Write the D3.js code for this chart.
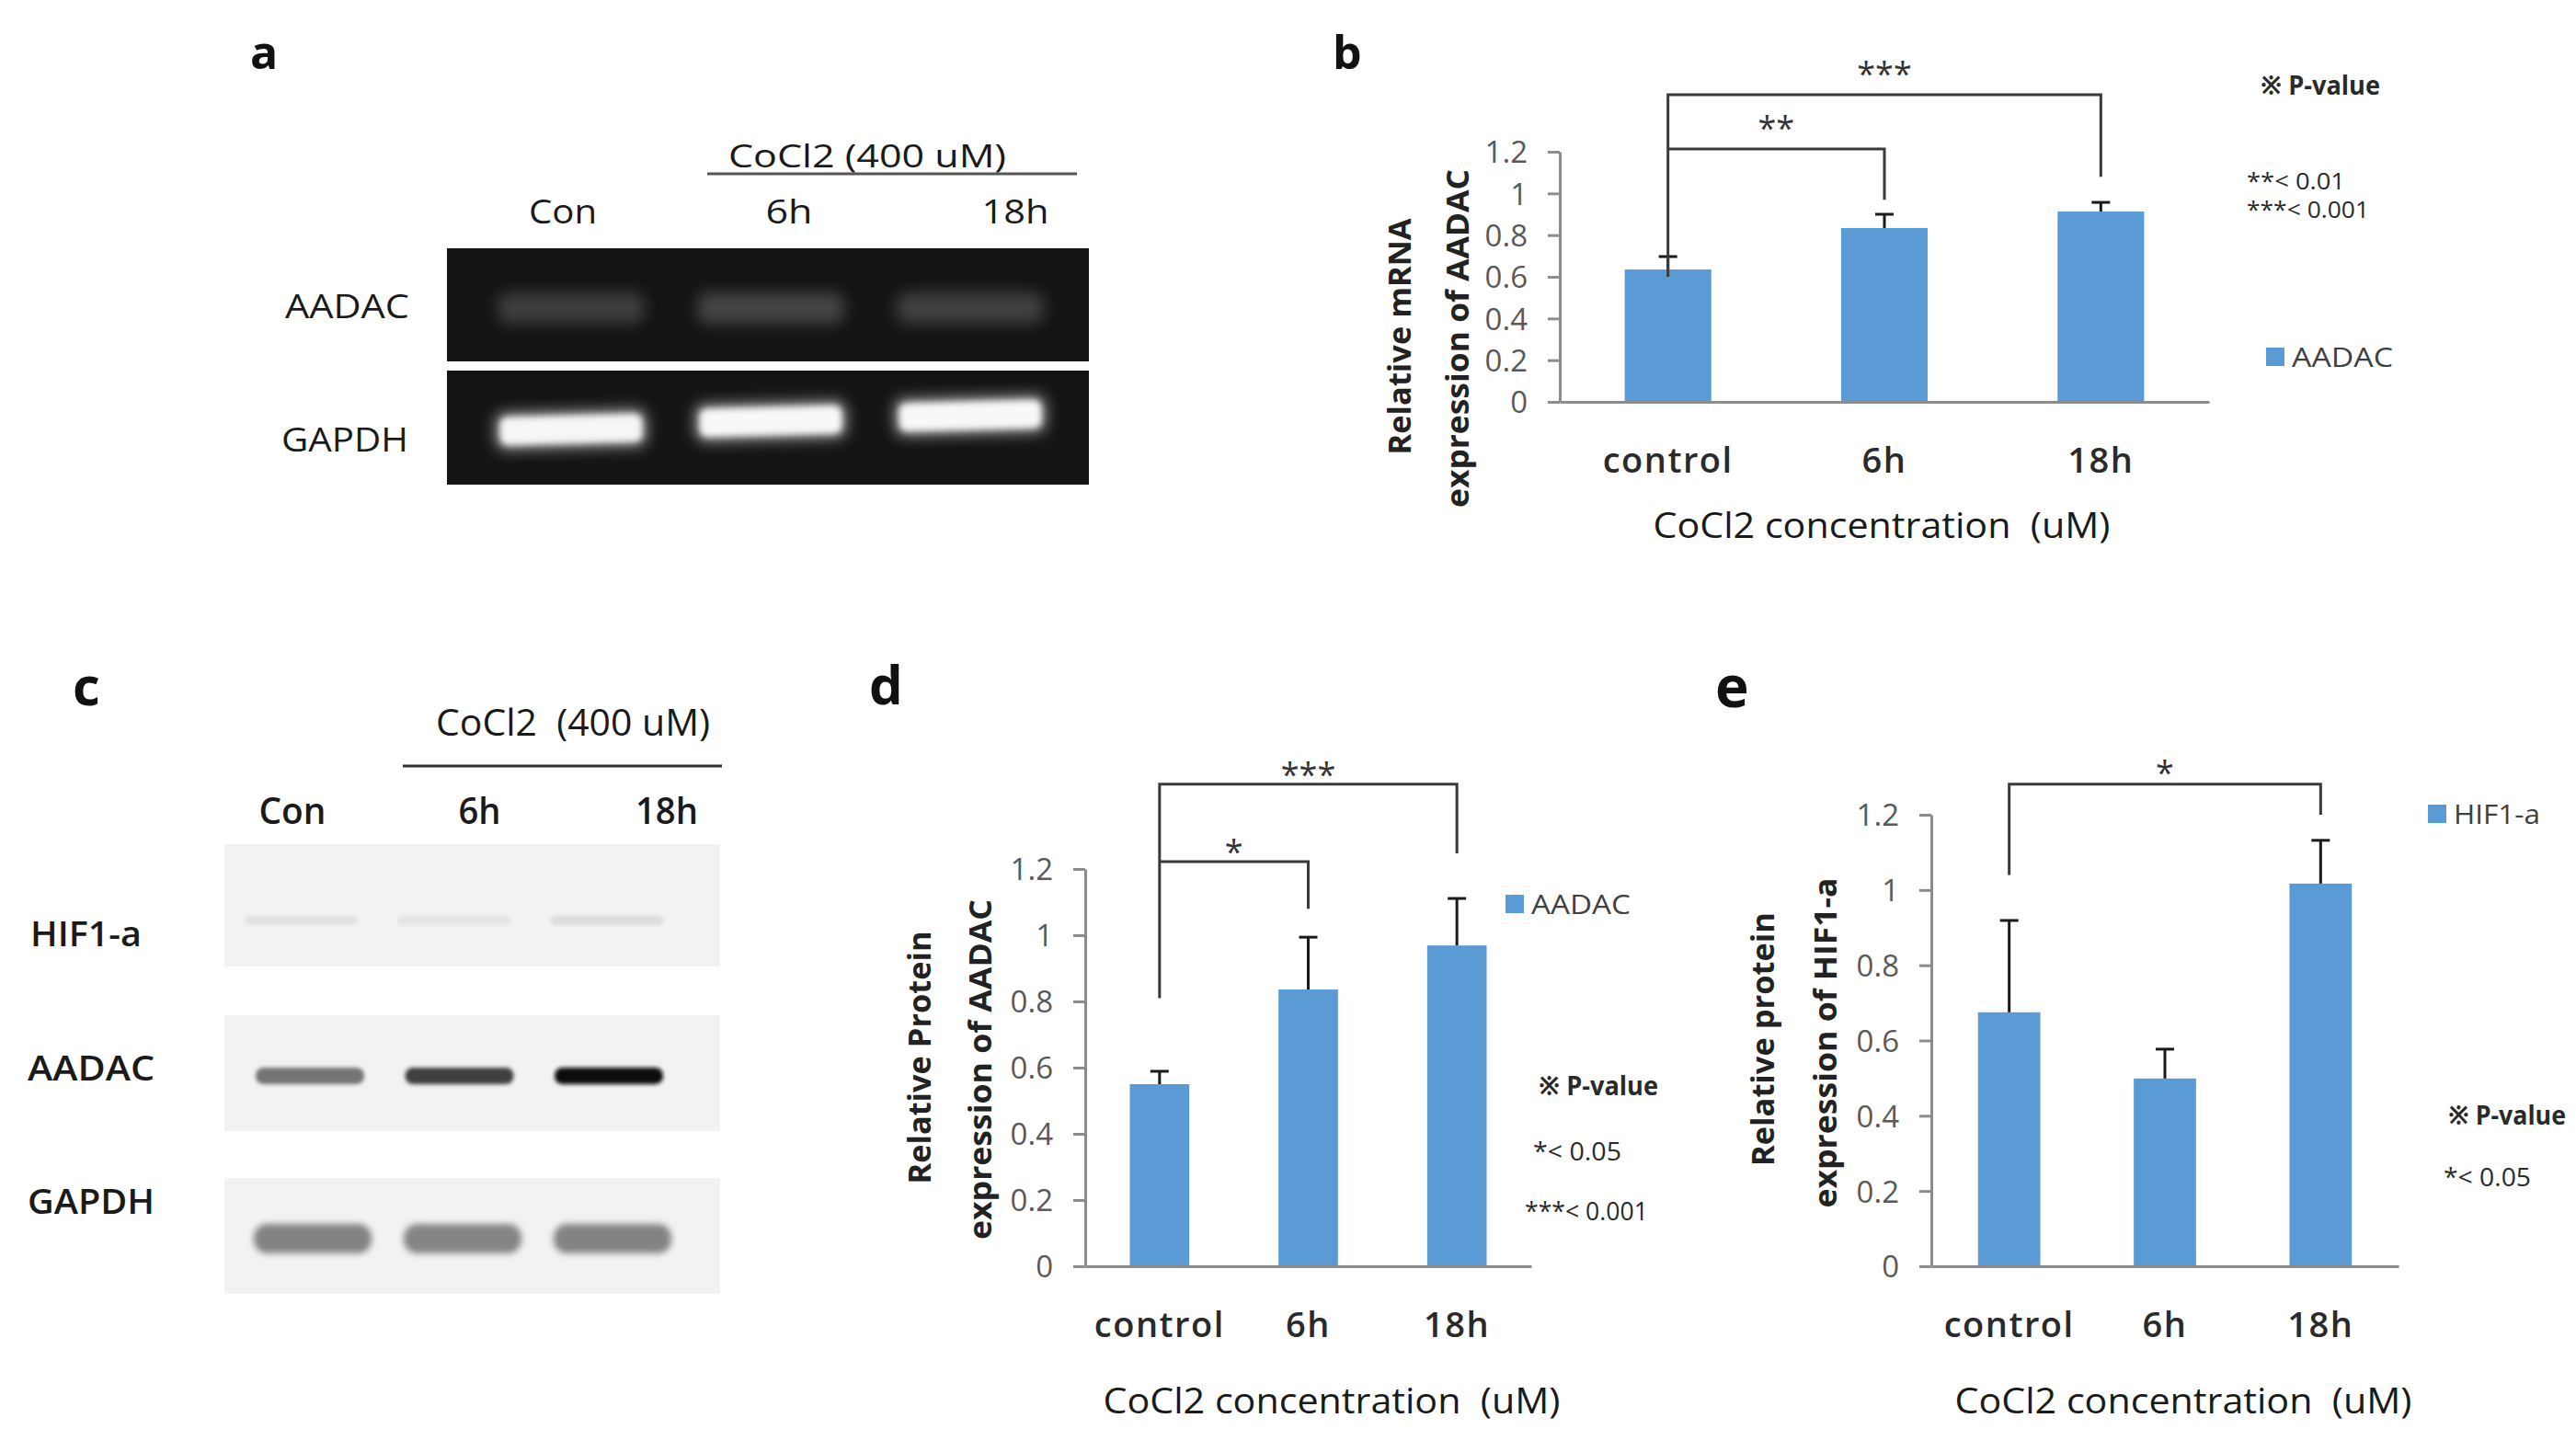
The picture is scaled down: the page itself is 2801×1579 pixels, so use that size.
<!DOCTYPE html>
<html>
<head>
<meta charset="utf-8">
<script src="https://cdn.jsdelivr.net/npm/d3@7"></script>
<style>
  html, body { margin: 0; padding: 0; background: #ffffff; }
  svg { display: block; }
  text { white-space: pre; }
</style>
</head>
<body>
<script>
// ---------------- DATA ----------------
const lanes = ["Con", "6h", "18h"];
const gelAADAC = [0.17, 0.21, 0.19];      // RT-PCR band brightness
const gelGAPDH = [0.96, 0.97, 0.97];
const wbHIF1a = [0.07, 0.06, 0.09];       // western blot band darkness
const wbAADAC = [0.52, 0.74, 0.95];
const wbGAPDH = [0.46, 0.45, 0.46];

const categories = ["control", "6h", "18h"];
const mrnaAADAC = [0.635, 0.834, 0.913];
const mrnaAADACErr = [0.062, 0.066, 0.044];
const protAADAC = [0.55, 0.836, 0.969];
const protAADACErr = [0.039, 0.158, 0.142];
const protHIF1a = [0.675, 0.499, 1.017];
const protHIF1aErr = [0.244, 0.078, 0.115];

const yTicks = [0, 0.2, 0.4, 0.6, 0.8, 1.0, 1.2];
const yTickLabels = ["0", "0.2", "0.4", "0.6", "0.8", "1", "1.2"];

// significance brackets (data units)
const bracketsB = [
  { from: "control", to: "6h", label: "**", top: 1.213, left: 1.213, right: 0.97 },
  { from: "control", to: "18h", label: "***", top: 1.473, left: 0.60, right: 1.08 }
];
const bracketsD = [
  { from: "control", to: "6h", label: "*", top: 1.222, left: 1.222, right: 1.08 },
  { from: "control", to: "18h", label: "***", top: 1.456, left: 0.81, right: 1.247 }
];
const bracketsE = [
  { from: "control", to: "18h", label: "*", top: 1.281, left: 1.04, right: 1.2 }
];

// ---------------- SETUP ----------------
const W = 2801, H = 1579;
const FONT = "'Open Sans','Noto Sans','Noto Sans CJK KR',sans-serif";
const BAR = "#5b9bd5";
const AXIS = "#8c8c8c";

const svg = d3.select("body").append("svg")
  .attr("width", W).attr("height", H)
  .attr("viewBox", `0 0 ${W} ${H}`);
svg.append("rect").attr("width", W).attr("height", H).attr("fill", "#ffffff");

const defs = svg.append("defs");
function blur(id, sd) {
  defs.append("filter").attr("id", id)
    .attr("x", "-30%").attr("y", "-150%").attr("width", "160%").attr("height", "400%")
    .append("feGaussianBlur").attr("stdDeviation", sd);
}
blur("bGlow", 8);
blur("bSoft", 3.5);
blur("bWb", 2.2);
blur("bWbS", 3.5);

function T(x, y, s, o = {}) {
  const fs = o.fs || 32;
  const t = svg.append("text")
    .attr("x", x)
    .attr("y", o.baseline ? y : y + fs * 0.36)
    .attr("font-size", fs)
    .attr("font-weight", o.fw || 400)
    .attr("fill", o.fill || "#222")
    .attr("text-anchor", o.anchor || "start")
    .attr("font-family", o.ff || FONT)
    .text(s);
  if (o.len) t.attr("textLength", o.len).attr("lengthAdjust", "spacingAndGlyphs");
  if (o.ls) t.attr("letter-spacing", o.ls);
  return t;
}
function TR(cx, cy, s, o = {}) {
  const fs = o.fs || 34;
  const g = svg.append("g").attr("transform", `translate(${cx},${cy}) rotate(-90)`);
  const t = g.append("text")
    .attr("x", 0).attr("y", fs * 0.36)
    .attr("font-size", fs).attr("font-weight", o.fw || 700)
    .attr("fill", o.fill || "#222").attr("text-anchor", "middle")
    .attr("font-family", FONT).text(s);
  if (o.len) t.attr("textLength", o.len).attr("lengthAdjust", "spacingAndGlyphs");
  return t;
}

// ---------------- PANEL LABELS ----------------
T(272, 75, "a", { fs: 50, fw: 700, fill: "#111", baseline: true });
T(1449, 75, "b", { fs: 50, fw: 700, fill: "#111", baseline: true });
T(79, 767, "c", { fs: 58, fw: 700, fill: "#111", baseline: true });
T(945, 766, "d", { fs: 58, fw: 700, fill: "#111", baseline: true });
T(1865, 769, "e", { fs: 62, fw: 700, fill: "#111", baseline: true });

// ---------------- PANEL A: RT-PCR gel ----------------
(function () {
  T(792, 170, "CoCl2 (400 uM)", { fs: 34, fw: 400, fill: "#1a1a1a", len: 302 });
  svg.append("line").attr("x1", 769).attr("x2", 1171).attr("y1", 189).attr("y2", 189)
    .attr("stroke", "#555").attr("stroke-width", 3);
  const lab = d3.scalePoint().domain(lanes).range([612, 1104]);
  const lens = { "Con": 74, "6h": 51, "18h": 73 };
  lanes.forEach(l => T(lab(l), 230, l, { fs: 36, fw: 400, fill: "#1a1a1a", anchor: "middle", len: lens[l] }));
  T(310, 333, "AADAC", { fs: 37, fill: "#1a1a1a", len: 135 });
  T(306, 478, "GAPDH", { fs: 37, fill: "#1a1a1a", len: 138 });

  const gelBg = "#141414";
  const col = d3.interpolateRgb(gelBg, "#ffffff");
  const lx = d3.scalePoint().domain(lanes).range([621, 1055]);
  svg.append("rect").attr("x", 486).attr("y", 270).attr("width", 698).attr("height", 123).attr("fill", gelBg);
  svg.append("rect").attr("x", 486).attr("y", 403).attr("width", 698).attr("height", 124).attr("fill", gelBg);
  const gA = svg.append("g");
  gA.selectAll("rect").data(gelAADAC).join("rect")
    .attr("x", (d, i) => lx(lanes[i]) - 80).attr("y", 318)
    .attr("width", 160).attr("height", 34).attr("rx", 12)
    .attr("fill", d => col(d)).attr("filter", "url(#bGlow)");
  const gyOff = [467, 458, 452]; // layout: band centre heights
  const gG = svg.append("g");
  gG.selectAll("rect.glow").data(gelGAPDH).join("rect").attr("class", "glow")
    .attr("x", (d, i) => lx(lanes[i]) - 82).attr("y", (d, i) => gyOff[i] - 20)
    .attr("width", 164).attr("height", 40).attr("rx", 10)
    .attr("fill", d => col(d * 0.6)).attr("filter", "url(#bGlow)")
    .attr("transform", (d, i) => `rotate(-1.5,${lx(lanes[i])},${gyOff[i]})`);
  gG.selectAll("rect.core").data(gelGAPDH).join("rect").attr("class", "core")
    .attr("x", (d, i) => lx(lanes[i]) - 77).attr("y", (d, i) => gyOff[i] - 15)
    .attr("width", 154).attr("height", 30).attr("rx", 8)
    .attr("fill", d => col(d)).attr("filter", "url(#bSoft)")
    .attr("transform", (d, i) => `rotate(-1.5,${lx(lanes[i])},${gyOff[i]})`);
})();

// ---------------- PANEL C: Western blot ----------------
(function () {
  T(474, 786, "CoCl2  (400 uM)", { fs: 40, fw: 500, fill: "#1a1a1a", len: 298 });
  svg.append("line").attr("x1", 438).attr("x2", 785).attr("y1", 833).attr("y2", 833)
    .attr("stroke", "#333").attr("stroke-width", 3);
  const lab = d3.scalePoint().domain(lanes).range([318, 725]);
  const lens = { "Con": 73, "6h": 46, "18h": 68 };
  lanes.forEach(l => T(lab(l), 882, l, { fs: 40, fw: 600, fill: "#1a1a1a", anchor: "middle", len: lens[l] }));
  T(33, 1015, "HIF1-a", { fs: 38, fw: 600, fill: "#1a1a1a", len: 121 });
  T(30, 1161, "AADAC", { fs: 38, fw: 600, fill: "#1a1a1a", len: 138 });
  T(30, 1306, "GAPDH", { fs: 38, fw: 600, fill: "#1a1a1a", len: 138 });

  const bg = "#f2f2f2";
  const col = d3.interpolateRgb(bg, "#000000");
  [[918, 133], [1104, 126], [1281, 126]].forEach(([y, h]) =>
    svg.append("rect").attr("x", 244).attr("y", y).attr("width", 539).attr("height", h).attr("fill", bg));

  function bands(data, range, cy, w, h, filt) {
    const lx = d3.scalePoint().domain(lanes).range(range);
    svg.append("g").selectAll("rect").data(data).join("rect")
      .attr("x", (d, i) => lx(lanes[i]) - w / 2).attr("y", cy - h / 2)
      .attr("width", w).attr("height", h).attr("rx", h / 2.2)
      .attr("fill", d => col(d)).attr("filter", `url(#${filt})`);
  }
  bands(wbHIF1a, [327, 660], 1001, 122, 10, "bWb");
  bands(wbAADAC, [337, 662], 1170, 118, 18, "bWb");
  bands(wbGAPDH, [340, 666], 1347, 128, 32, "bWbS");
})();

// ---------------- BAR CHARTS ----------------
function barChart(c) {
  const x = d3.scaleBand().domain(categories).range([c.x0, c.x1])
    .paddingInner(0.6).paddingOuter(0.3);
  const y = d3.scaleLinear().domain([0, 1.2]).range([c.y0, c.y1]);
  const g = svg.append("g");

  // bars
  g.append("g").selectAll("rect").data(c.values).join("rect")
    .attr("x", (d, i) => x(categories[i])).attr("width", x.bandwidth())
    .attr("y", d => y(d)).attr("height", d => c.y0 - y(d))
    .attr("fill", BAR);

  // error bars (upper)
  const eb = g.append("g").attr("stroke", "#1a1a1a").attr("stroke-width", 3);
  c.values.forEach((v, i) => {
    const cx = x(categories[i]) + x.bandwidth() / 2;
    eb.append("line").attr("x1", cx).attr("x2", cx).attr("y1", y(v)).attr("y2", y(v + c.errs[i]));
    eb.append("line").attr("x1", cx - 10).attr("x2", cx + 10).attr("y1", y(v + c.errs[i])).attr("y2", y(v + c.errs[i]));
  });

  // y axis
  const ya = g.append("g").attr("transform", `translate(${c.x0},0)`)
    .call(d3.axisLeft(y).tickValues(yTicks).tickFormat((d, i) => yTickLabels[i])
      .tickSize(13).tickSizeOuter(0).tickPadding(22));
  ya.select(".domain").attr("stroke", AXIS).attr("stroke-width", 3);
  ya.selectAll(".tick line").attr("stroke", AXIS).attr("stroke-width", 3);
  ya.selectAll(".tick text").attr("fill", "#595959").attr("font-size", 33)
    .attr("font-family", FONT).attr("dy", "0.36em");

  // x axis
  const xa = g.append("g").attr("transform", `translate(0,${c.y0})`)
    .call(d3.axisBottom(x).tickSize(0).tickSizeOuter(0));
  xa.select(".domain").attr("stroke", AXIS).attr("stroke-width", 3);
  xa.selectAll(".tick text").attr("y", 77).attr("dy", null)
    .attr("font-size", 38).attr("font-weight", 600).attr("fill", "#2a2a2a")
    .attr("font-family", FONT).attr("letter-spacing", 1.5);

  // brackets
  const bg = g.append("g").attr("fill", "none").attr("stroke", "#3a3a3a").attr("stroke-width", 3);
  c.brackets.forEach(b => {
    const xl = x(b.from) + x.bandwidth() / 2, xr = x(b.to) + x.bandwidth() / 2;
    bg.append("path").attr("d", `M${xl},${y(b.left)}V${y(b.top)}H${xr}V${y(b.right)}`);
    const fs = 36;
    svg.append("text").attr("x", (xl + xr) / 2).attr("y", y(b.top) - c.labelGap + fs * 0.56)
      .attr("text-anchor", "middle").attr("font-size", fs).attr("font-family", FONT)
      .attr("fill", "#333").text(b.label);
  });

  // legend
  svg.append("rect").attr("x", c.legX).attr("y", c.legY - 10).attr("width", 20).attr("height", 20).attr("fill", BAR);
  T(c.legX + 28, c.legY, c.legName, { fs: 30, fill: "#404040", len: c.legLen });

  // titles
  T(c.xtX, c.xtY, "CoCl2 concentration  (uM)", { fs: 38, fw: 400, fill: "#1a1a1a", anchor: "middle", len: 497 });
  TR(c.yt1X, c.yt1Y, c.yt1, { fs: 34, len: c.yt1Len });
  TR(c.yt2X, c.yt2Y, c.yt2, { fs: 34, len: c.yt2Len });
}

barChart({
  x0: 1696, x1: 2402, y0: 437, y1: 165,
  values: mrnaAADAC, errs: mrnaAADACErr, brackets: bracketsB, labelGap: 30,
  legX: 2464, legY: 388, legName: "AADAC", legLen: 110,
  xtX: 2046, xtY: 571,
  yt1: "Relative mRNA", yt1X: 1522, yt1Y: 366, yt1Len: 257,
  yt2: "expression of AADAC", yt2X: 1585, yt2Y: 368, yt2Len: 368
});
barChart({
  x0: 1180, x1: 1665, y0: 1377, y1: 945,
  values: protAADAC, errs: protAADACErr, brackets: bracketsD, labelGap: 18,
  legX: 1637, legY: 983, legName: "AADAC", legLen: 108,
  xtX: 1448, xtY: 1523,
  yt1: "Relative Protein", yt1X: 1000, yt1Y: 1150, yt1Len: 275,
  yt2: "expression of AADAC", yt2X: 1066, yt2Y: 1163, yt2Len: 370
});
barChart({
  x0: 2100, x1: 2608, y0: 1377, y1: 886,
  values: protHIF1a, errs: protHIF1aErr, brackets: bracketsE, labelGap: 20,
  legX: 2640, legY: 885, legName: "HIF1-a", legLen: 94,
  xtX: 2374, xtY: 1523,
  yt1: "Relative protein", yt1X: 1917, yt1Y: 1130, yt1Len: 276,
  yt2: "expression of HIF1-a", yt2X: 1985, yt2Y: 1134, yt2Len: 359
});

// p-value notes
T(2458, 93, "※ P-value", { fs: 28, fw: 700, fill: "#2a2a2a", len: 130 });
T(2443, 197, "**< 0.01", { fs: 25, fw: 500, fill: "#2a2a2a", len: 107 });
T(2443, 228, "***< 0.001", { fs: 25, fw: 500, fill: "#2a2a2a", len: 133 });

T(1673, 1181, "※ P-value", { fs: 28, fw: 700, fill: "#2a2a2a", len: 130 });
T(1667, 1252, "*< 0.05", { fs: 28, fw: 500, fill: "#2a2a2a", len: 96 });
T(1658, 1317, "***< 0.001", { fs: 28, fw: 500, fill: "#2a2a2a", len: 134 });

T(2662, 1213, "※ P-value", { fs: 28, fw: 700, fill: "#2a2a2a", len: 128 });
T(2657, 1280, "*< 0.05", { fs: 28, fw: 500, fill: "#2a2a2a", len: 95 });
</script>
</body>
</html>
